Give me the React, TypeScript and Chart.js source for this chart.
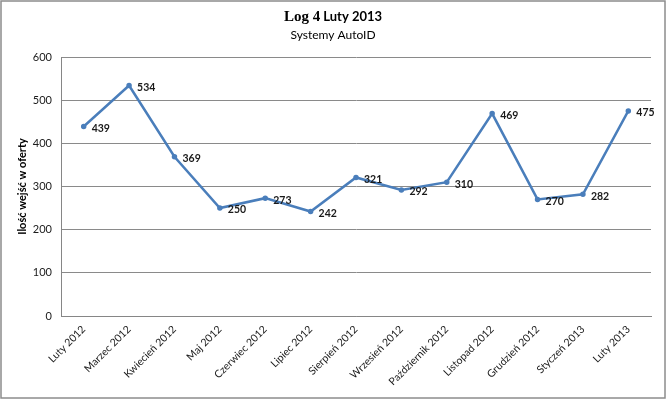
import React, { useEffect, useRef } from "react";
import { Chart, registerables } from "chart.js";

Chart.register(...registerables);

const categories = [
  "Luty 2012", "Marzec 2012", "Kwiecień 2012", "Maj 2012", "Czerwiec 2012",
  "Lipiec 2012", "Sierpień 2012", "Wrzesień 2012", "Październik 2012",
  "Listopad 2012", "Grudzień 2012", "Styczeń 2013", "Luty 2013",
];
const values = [439, 534, 369, 250, 273, 242, 321, 292, 310, 469, 270, 282, 475];
const titleMain = "Log 4";
const titleRest = " Luty 2013";
const subtitle = "Systemy AutoID";
const yTitle = "Ilość wejść w oferty";

const SANS = "Lato, 'Open Sans', sans-serif";

const decor = {
  id: "decor",
  afterDraw(chart: any) {
    const ctx = chart.ctx;
    ctx.save();
    // border
    ctx.strokeStyle = "#8c8c8c";
    ctx.lineWidth = 1.5;
    ctx.strokeRect(1, 1, chart.width - 2, chart.height - 2);
    // title
    ctx.fillStyle = "#000";
    ctx.textBaseline = "alphabetic";
    ctx.font = "bold 15px 'Liberation Serif', serif";
    const w1 = ctx.measureText(titleMain).width;
    ctx.font = `bold 13px ${SANS}`;
    const w2 = ctx.measureText(titleRest).width;
    const x0 = chart.width / 2 - (w1 + w2) / 2;
    ctx.textAlign = "left";
    ctx.font = "bold 15px 'Liberation Serif', serif";
    ctx.fillText(titleMain, x0, 21);
    ctx.font = `bold 13px ${SANS}`;
    ctx.fillText(titleRest, x0 + w1, 21);
    ctx.font = `12px ${SANS}`;
    ctx.textAlign = "center";
    ctx.fillText(subtitle, chart.width / 2, 39);
    // y title
    ctx.save();
    ctx.translate(22, (chart.chartArea.top + chart.chartArea.bottom) / 2);
    ctx.rotate(-Math.PI / 2);
    ctx.font = `bold 11px ${SANS}`;
    ctx.textAlign = "center";
    ctx.textBaseline = "middle";
    ctx.fillText(yTitle, 0, 0);
    ctx.restore();
    // data labels
    const meta = chart.getDatasetMeta(0);
    ctx.font = `bold 10.5px ${SANS}`;
    ctx.fillStyle = "#1a1a1a";
    ctx.textAlign = "left";
    ctx.textBaseline = "middle";
    meta.data.forEach((pt: any, i: number) => {
      ctx.fillText(String(values[i]), pt.x + 8, pt.y + 2);
    });
    ctx.restore();
  },
};

export default function App() {
  const ref = useRef<HTMLCanvasElement>(null);
  useEffect(() => {
    const chart = new Chart(ref.current!, {
      type: "line",
      data: {
        labels: categories,
        datasets: [
          {
            data: values,
            borderColor: "#4a7ebb",
            backgroundColor: "#4a7ebb",
            borderWidth: 2.5,
            pointRadius: 1.5,
            pointHoverRadius: 1.5,
            tension: 0,
          },
        ],
      },
      options: {
        responsive: false,
        animation: false,
        layout: { padding: { top: 57, right: 15, left: 0, bottom: 0 } },
        plugins: { legend: { display: false }, tooltip: { enabled: false } },
        scales: {
          x: {
            offset: true,
            grid: { display: false, drawTicks: false },
            border: { display: true, color: "#868686", width: 1 },
            ticks: {
              minRotation: 45,
              maxRotation: 45,
              padding: 7,
              color: "#1a1a1a",
              font: { family: SANS, size: 10.5 },
              autoSkip: false,
            },
            afterFit(scale: any) {
              scale.height = 83;
            },
          },
          y: {
            min: 0,
            max: 600,
            grid: { color: "#8a8a8a", lineWidth: 1, drawTicks: false },
            border: { display: true, color: "#868686", width: 1 },
            ticks: {
              stepSize: 100,
              padding: 9,
              color: "#1a1a1a",
              font: { family: SANS, size: 11 },
            },
            afterFit(scale: any) {
              scale.width = 61;
            },
          },
        },
      },
      plugins: [decor],
    });
    return () => chart.destroy();
  }, []);
  return (
    <div style={{ position: "fixed", left: 0, top: 0, width: 666, height: 399, background: "#fff" }}>
      <canvas ref={ref} width={666} height={399} />
    </div>
  );
}
